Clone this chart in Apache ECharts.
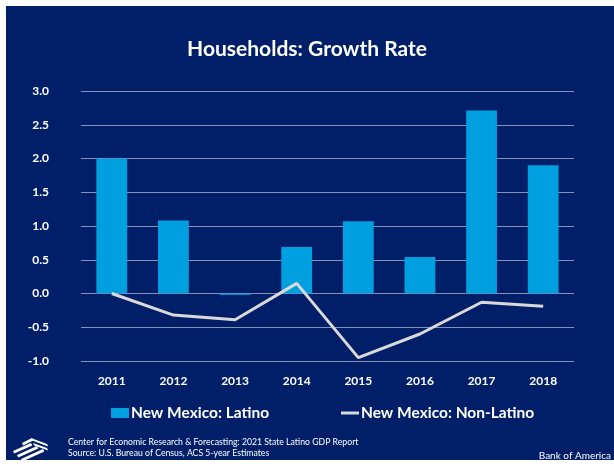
<!DOCTYPE html>
<html>
<head>
<meta charset="utf-8">
<script src="https://cdn.jsdelivr.net/npm/echarts@6/dist/echarts.min.js"></script>
<style>
  html, body { margin: 0; padding: 0; background: #ffffff; }
  #chart { width: 614px; height: 467px; }
</style>
</head>
<body>
<div id="chart"></div>
<script>
// Household growth rate (%), New Mexico, by year
const years = ['2011', '2012', '2013', '2014', '2015', '2016', '2017', '2018'];
const latino = [2.0, 1.08, -0.02, 0.69, 1.07, 0.54, 2.71, 1.90];
const nonLatino = [0.0, -0.32, -0.39, 0.15, -0.95, -0.60, -0.13, -0.19];
const yTicks = { min: -1, max: 3, step: 0.5 };

const NAVY = '#001f68';
const FONT = 'Lato, "Open Sans", sans-serif';
const legendText = { color: '#ffffff', fontFamily: FONT, fontSize: 15.5, fontWeight: 'bold' };

const chart = echarts.init(document.getElementById('chart'), null, { renderer: 'canvas' });

// Slanted band of the flag emblem in the footer
function band(x, y, dx, dy, t) {
  return {
    type: 'polygon',
    shape: { points: [[x, y], [x + dx, y + dy], [x + dx + t * 0.5, y + dy + t], [x + t * 0.5, y + t]] },
    style: { fill: '#ffffff' }
  };
}

chart.setOption({
  backgroundColor: '#ffffff',
  animation: false,
  graphic: [
    { type: 'rect', z: -10, shape: { x: 6, y: 6, width: 608, height: 454 }, style: { fill: NAVY } },
    {
      type: 'group',
      children: [
        // lower bands rising to the right
        band(13, 451, 18, -8, 2.6),
        band(17, 455, 20, -9, 2.6),
        band(21, 459, 22, -10, 2.6),
        // upper bands falling to the right
        band(22, 443, 10, -5, 2.4),
        band(31, 438, 16, 6, 2.4),
        band(33, 443, 14, 5, 2.4)
      ]
    },
    {
      type: 'text', left: 68, top: 438,
      style: { text: 'Center for Economic Research & Forecasting: 2021 State Latino GDP Report', fill: '#ffffff', font: '8.7px ' + FONT }
    },
    {
      type: 'text', left: 68, top: 449,
      style: { text: 'Source: U.S. Bureau of Census, ACS 5-year Estimates', fill: '#ffffff', font: '8.7px ' + FONT }
    },
    {
      type: 'text', right: 3, top: 451,
      style: { text: 'Bank of America', fill: '#ffffff', font: '10px ' + FONT }
    }
  ],
  title: {
    text: 'Households: Growth Rate',
    left: 'center',
    top: 34,
    textStyle: { color: '#ffffff', fontFamily: FONT, fontSize: 21, fontWeight: 'bold' }
  },
  legend: [
    {
      left: 106,
      top: 400,
      itemWidth: 18,
      itemHeight: 10,
      textStyle: Object.assign({ padding: [0, 0, 0, -3] }, legendText),
      data: [{ name: 'New Mexico: Latino', icon: 'rect' }]
    },
    {
      left: 336,
      top: 400,
      itemWidth: 18,
      itemHeight: 3,
      textStyle: Object.assign({ padding: [0, 0, 0, -3] }, legendText),
      data: [{ name: 'New Mexico: Non-Latino', icon: 'rect', itemStyle: { color: '#d9d9d9' } }]
    }
  ],
  grid: { left: 81, right: 40, top: 91, bottom: 106, containLabel: false },
  xAxis: {
    type: 'category',
    data: years,
    axisLine: { show: false },
    axisTick: { show: false },
    axisLabel: { color: '#ffffff', fontFamily: FONT, fontSize: 12, fontWeight: 'bold', margin: 14 }
  },
  yAxis: {
    type: 'value',
    min: yTicks.min,
    max: yTicks.max,
    interval: yTicks.step,
    axisLine: { show: false },
    axisTick: { show: false },
    splitLine: { lineStyle: { color: '#8a8fb3', width: 1 } },
    axisLabel: {
      color: '#ffffff', fontFamily: FONT, fontSize: 12, fontWeight: 'bold', margin: 32,
      formatter: v => v.toFixed(1)
    }
  },
  series: [
    {
      name: 'New Mexico: Latino',
      type: 'bar',
      data: latino,
      barWidth: '50%',
      itemStyle: { color: '#009fdf' }
    },
    {
      name: 'New Mexico: Non-Latino',
      type: 'line',
      data: nonLatino,
      symbol: 'none',
      lineStyle: { color: '#d9d9d9', width: 3 },
      itemStyle: { color: '#d9d9d9' }
    }
  ]
});
</script>
</body>
</html>
